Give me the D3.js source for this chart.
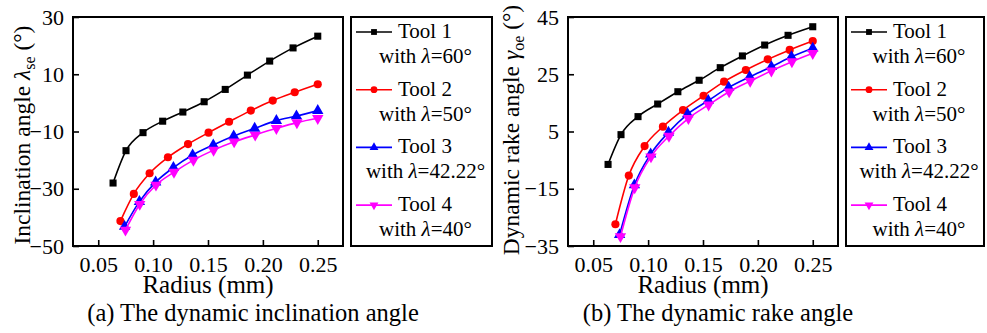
<!DOCTYPE html>
<html>
<head>
<meta charset="utf-8">
<script src="https://cdn.jsdelivr.net/npm/d3@7"></script>
<style>
  body { margin: 0; background: #fff; }
</style>
</head>
<body>
<div id="chartContainer"></div>
<script>
// x positions (radius, mm) for each tool
var xTool1 = [0.0635, 0.0753, 0.0908, 0.1087, 0.1271, 0.1465, 0.1657, 0.1859, 0.2062, 0.2275, 0.25];
var xTool2 = [0.0702, 0.0824, 0.0968, 0.1135, 0.1318, 0.1505, 0.1692, 0.189, 0.209, 0.229, 0.25];
var xTool3 = [0.074, 0.0875, 0.1023, 0.1185, 0.136, 0.1548, 0.1734, 0.1925, 0.2123, 0.2306, 0.25];
var xTool4 = [0.0748, 0.0878, 0.1026, 0.119, 0.1367, 0.1551, 0.1738, 0.193, 0.2123, 0.231, 0.25];

// (a) inclination angle
var incTool1 = [-28, -16.7, -10.4, -6.4, -3.2, 0.4, 4.7, 9.7, 14.6, 19.2, 23.3];
var incTool2 = [-41.3, -31.8, -24.6, -19, -14.4, -10.4, -6.6, -2.7, 0.8, 3.7, 6.5];
var incTool3 = [-43.2, -34.5, -27.7, -22.6, -18.2, -14.7, -11.6, -8.9, -6.2, -4.6, -2.7];
var incTool4 = [-44.4, -35.4, -28.7, -24.2, -20, -16.5, -13.6, -11.2, -8.9, -6.9, -5.4];

// (b) rake angle
var rakeTool1 = [-6.5, 3.9, 10.2, 14.6, 18.9, 22.9, 27.3, 31.4, 35.2, 38.6, 41.6];
var rakeTool2 = [-27.4, -10.4, -0.1, 6.7, 12.5, 17.5, 22.4, 26.5, 30.2, 33.5, 36.6];
var rakeTool3 = [-31.1, -13.7, -2.9, 4.7, 11.1, 15.8, 20.4, 24.1, 27.6, 31.1, 34.1];
var rakeTool4 = [-31.7, -14.6, -3.8, 3.4, 9.6, 14.3, 18.9, 22.6, 26.2, 29.4, 32.3];

var xTicks = [0.05, 0.10, 0.15, 0.20, 0.25];
var incTicks = [-50, -30, -10, 10, 30];
var rakeTicks = [-35, -15, 5, 25, 45];

var toolNames = ["Tool 1", "Tool 2", "Tool 3", "Tool 4"];
var toolLambdas = ["60°", "50°", "42.22°", "40°"];
var colors = ["#000000", "#ff0000", "#0000ff", "#ff00ff"];
var symbols = [d3.symbolSquare, d3.symbolCircle, d3.symbolTriangle, d3.symbolTriangle];

var FONT = "Liberation Serif";
var width = 987, height = 333;

var svg = d3.select("#chartContainer")
    .append("svg")
    .attr("width", width)
    .attr("height", height)
    .attr("font-family", FONT);

function styleAxis(a) {
    a.attr("font-family", FONT).attr("font-size", 22);
    a.select(".domain").remove();
    a.selectAll("text").attr("fill", "#000").attr("font-family", FONT);
    a.selectAll("line").attr("stroke-width", 1.6);
}

function drawPanel(opt) {
    var x = d3.scaleLinear().domain([0.027, 0.273]).range([opt.left, opt.left + 270]);
    var y = d3.scaleLinear().domain(opt.yDomain).range([246, 17]);

    var g = svg.append("g");

    // axes, ticks pointing inward
    g.append("g")
        .attr("transform", "translate(0,246)")
        .call(d3.axisBottom(x).tickValues(xTicks).tickSizeInner(-6).tickSizeOuter(0).tickPadding(10).tickFormat(d3.format(".2f")))
        .call(styleAxis);

    g.append("g")
        .attr("transform", "translate(" + opt.left + ",0)")
        .call(d3.axisLeft(y).tickValues(opt.yTicks).tickSizeInner(-6).tickSizeOuter(0).tickPadding(9).tickFormat(d3.format("d")))
        .call(styleAxis);

    g.append("rect")
        .attr("x", opt.left).attr("y", 17)
        .attr("width", 270).attr("height", 229)
        .attr("fill", "none").attr("stroke", "#000").attr("stroke-width", 2);

    var line = d3.line()
        .x(function(d) { return x(d[0]); })
        .y(function(d) { return y(d[1]); })
        .curve(d3.curveMonotoneX);

    opt.series.forEach(function(vals, i) {
        var xs = [xTool1, xTool2, xTool3, xTool4][i];
        var pts = vals.map(function(v, j) { return [xs[j], v]; });
        g.append("path")
            .datum(pts)
            .attr("fill", "none")
            .attr("stroke", colors[i])
            .attr("stroke-width", 1.6)
            .attr("d", line);
        g.selectAll(".m" + i)
            .data(pts)
            .enter()
            .append("path")
            .attr("d", d3.symbol().type(symbols[i]).size(i == 1 ? 52 : (i == 0 ? 50 : 56)))
            .attr("fill", colors[i])
            .attr("transform", function(d) {
                return "translate(" + x(d[0]) + "," + y(d[1]) + ")" + (i == 3 ? " rotate(180)" : "");
            });
    });

    // y title
    var yt = g.append("text")
        .attr("transform", "translate(" + opt.titleX + "," + opt.titleY + ") rotate(-90)")
        .attr("text-anchor", "middle")
        .attr("font-family", FONT)
        .attr("font-size", 23.5);
    yt.append("tspan").text(opt.yTitle + " ");
    yt.append("tspan").attr("font-style", "italic").text(opt.sym);
    yt.append("tspan").attr("dy", 5).attr("font-size", 16).text(opt.sub);
    yt.append("tspan").attr("dy", -5).text(" (°)");

    // x title
    g.append("text")
        .attr("x", opt.left + 135).attr("y", 293)
        .attr("text-anchor", "middle")
        .attr("font-family", FONT)
        .attr("font-size", 25)
        .text("Radius (mm)");

    // caption
    g.append("text")
        .attr("x", opt.capX).attr("y", 321)
        .attr("text-anchor", "middle")
        .attr("font-family", FONT)
        .attr("font-size", 24.5)
        .text(opt.caption);

    // legend
    var lg = g.append("g");
    lg.append("rect")
        .attr("x", opt.legX).attr("y", 17)
        .attr("width", opt.legW).attr("height", 229)
        .attr("fill", "none").attr("stroke", "#000").attr("stroke-width", 2);
    toolNames.forEach(function(name, i) {
        var cy = 32 + i * 57.7;
        lg.append("line")
            .attr("x1", opt.legX + 5).attr("x2", opt.legX + 41)
            .attr("y1", cy).attr("y2", cy)
            .attr("stroke", colors[i]).attr("stroke-width", 1.6);
        lg.append("path")
            .attr("d", d3.symbol().type(symbols[i]).size(i == 1 ? 36 : 34))
            .attr("fill", colors[i])
            .attr("transform", "translate(" + (opt.legX + 23) + "," + cy + ")" + (i == 3 ? " rotate(180)" : ""));
        lg.append("text")
            .attr("x", opt.legX + 47).attr("y", cy + 6)
            .attr("font-family", FONT)
            .attr("font-size", 21)
            .text(name);
        var t2 = lg.append("text")
            .attr("x", opt.legX + opt.legW / 2 + 4).attr("y", cy + 31)
            .attr("text-anchor", "middle")
            .attr("font-family", FONT)
            .attr("font-size", 21);
        t2.append("tspan").text("with ");
        t2.append("tspan").attr("font-style", "italic").text("λ");
        t2.append("tspan").text("=" + toolLambdas[i]);
    });
}

drawPanel({
    left: 73, yDomain: [-50, 30], yTicks: incTicks,
    series: [incTool1, incTool2, incTool3, incTool4],
    yTitle: "Inclination angle", sym: "λ", sub: "se", titleX: 30, titleY: 135,
    caption: "(a) The dynamic inclination angle", capX: 253,
    legX: 351, legW: 141
});

drawPanel({
    left: 568, yDomain: [-35, 45], yTicks: rakeTicks,
    series: [rakeTool1, rakeTool2, rakeTool3, rakeTool4],
    yTitle: "Dynamic rake angle", sym: "γ", sub: "oe", titleX: 519, titleY: 130,
    caption: "(b) The dynamic rake angle", capX: 718,
    legX: 846, legW: 138
});
</script>
</body>
</html>
